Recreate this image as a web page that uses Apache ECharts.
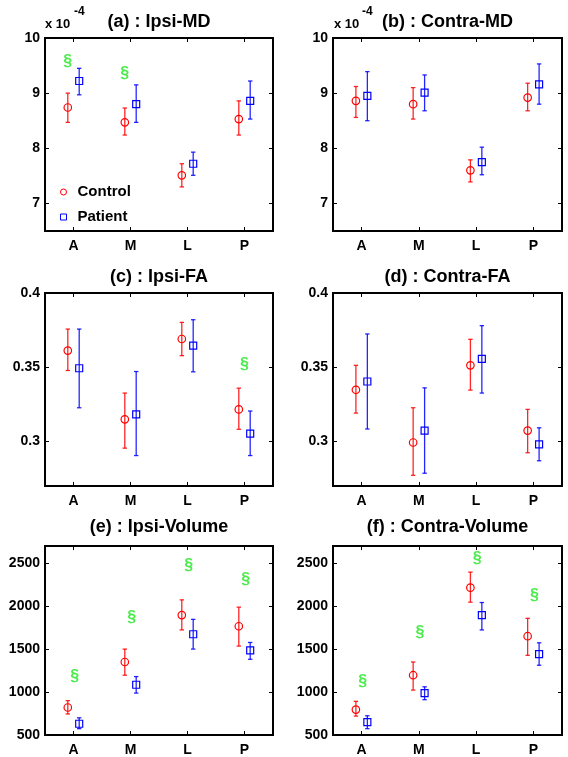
<!DOCTYPE html>
<html>
<head>
<meta charset="utf-8">
<script src="https://cdn.jsdelivr.net/npm/echarts@6/dist/echarts.min.js"></script>
<style>html,body{margin:0;padding:0;background:#fff;}#c{width:568px;height:757px;}</style>
</head>
<body>
<div id="c"></div>
<script>
const categories = ['A', 'M', 'L', 'P'];

// (a) Ipsi-MD (x 10^-4)
const ipsiMD_control   = [8.74, 8.47, 7.51, 8.53];
const ipsiMD_controlLo = [8.47, 8.24, 7.30, 8.24];
const ipsiMD_controlHi = [9.00, 8.73, 7.72, 8.86];
const ipsiMD_patient   = [9.22, 8.80, 7.72, 8.86];
const ipsiMD_patientLo = [8.97, 8.47, 7.51, 8.53];
const ipsiMD_patientHi = [9.45, 9.15, 7.93, 9.22];
const ipsiMD_sig = [[0, 9.58], [1, 9.36]];

// (b) Contra-MD (x 10^-4)
const contraMD_control   = [8.86, 8.80, 7.60, 8.92];
const contraMD_controlLo = [8.56, 8.53, 7.39, 8.68];
const contraMD_controlHi = [9.12, 9.10, 7.79, 9.18];
const contraMD_patient   = [8.95, 9.01, 7.75, 9.16];
const contraMD_patientLo = [8.50, 8.68, 7.52, 8.80];
const contraMD_patientHi = [9.39, 9.33, 8.02, 9.53];
const contraMD_sig = [];

// (c) Ipsi-FA
const ipsiFA_control   = [0.3612, 0.3149, 0.3690, 0.3216];
const ipsiFA_controlLo = [0.3478, 0.2955, 0.3578, 0.3082];
const ipsiFA_controlHi = [0.3757, 0.3326, 0.3802, 0.3359];
const ipsiFA_patient   = [0.3493, 0.3182, 0.3645, 0.3053];
const ipsiFA_patientLo = [0.3227, 0.2905, 0.3469, 0.2905];
const ipsiFA_patientHi = [0.3757, 0.3471, 0.3820, 0.3205];
const ipsiFA_sig = [[3, 0.352]];

// (d) Contra-FA
const contraFA_control   = [0.3348, 0.2993, 0.3513, 0.3073];
const contraFA_controlLo = [0.3191, 0.2772, 0.3346, 0.2924];
const contraFA_controlHi = [0.3513, 0.3227, 0.3688, 0.3216];
const contraFA_patient   = [0.3404, 0.3073, 0.3556, 0.2980];
const contraFA_patientLo = [0.3084, 0.2786, 0.3326, 0.2870];
const contraFA_patientHi = [0.3724, 0.3361, 0.3780, 0.3092];
const contraFA_sig = [];

// (e) Ipsi-Volume
const ipsiVol_control   = [820, 1350, 1896, 1766];
const ipsiVol_controlLo = [745, 1196, 1723, 1535];
const ipsiVol_controlHi = [900, 1500, 2073, 1988];
const ipsiVol_patient   = [631, 1085, 1673, 1485];
const ipsiVol_patientLo = [574, 988, 1500, 1381];
const ipsiVol_patientHi = [700, 1180, 1846, 1577];
const ipsiVol_sig = [[0, 1180], [1, 1862], [2, 2470], [3, 2308]];

// (f) Contra-Volume
const contraVol_control   = [796, 1196, 2215, 1650];
const contraVol_controlLo = [720, 1023, 2046, 1427];
const contraVol_controlHi = [892, 1350, 2396, 1858];
const contraVol_patient   = [651, 988, 1896, 1442];
const contraVol_patientLo = [574, 911, 1723, 1312];
const contraVol_patientHi = [724, 1061, 2042, 1573];
const contraVol_sig = [[0, 1123], [1, 1688], [2, 2558], [3, 2123]];

// tick labels
const mdTicks = [7, 8, 9, 10];
const faTicks = [0.3, 0.35, 0.4];
const volTicks = [500, 1000, 1500, 2000, 2500];

const FONT = 'Liberation Sans, Arial, Helvetica, sans-serif';
const RED = '#ff0000', BLUE = '#0000ff', GREEN = '#22e622';

const panels = [
  {title: '(a) : Ipsi-MD', grid: {left: 45, top: 38, width: 228, height: 193}, ymin: 6.5, ymax: 10, ticks: mdTicks,
   c: ipsiMD_control, cLo: ipsiMD_controlLo, cHi: ipsiMD_controlHi, p: ipsiMD_patient, pLo: ipsiMD_patientLo, pHi: ipsiMD_patientHi, sig: ipsiMD_sig, sigOff: -0.1, titleTop: 13},
  {title: '(b) : Contra-MD', grid: {left: 333, top: 38, width: 229, height: 193}, ymin: 6.5, ymax: 10, ticks: mdTicks,
   c: contraMD_control, cLo: contraMD_controlLo, cHi: contraMD_controlHi, p: contraMD_patient, pLo: contraMD_patientLo, pHi: contraMD_patientHi, sig: contraMD_sig, sigOff: 0, titleTop: 13},
  {title: '(c) : Ipsi-FA', grid: {left: 45, top: 293, width: 228, height: 193}, ymin: 0.27, ymax: 0.4, ticks: faTicks,
   c: ipsiFA_control, cLo: ipsiFA_controlLo, cHi: ipsiFA_controlHi, p: ipsiFA_patient, pLo: ipsiFA_patientLo, pHi: ipsiFA_patientHi, sig: ipsiFA_sig, sigOff: 0, titleTop: 268},
  {title: '(d) : Contra-FA', grid: {left: 333, top: 293, width: 229, height: 193}, ymin: 0.27, ymax: 0.4, ticks: faTicks,
   c: contraFA_control, cLo: contraFA_controlLo, cHi: contraFA_controlHi, p: contraFA_patient, pLo: contraFA_patientLo, pHi: contraFA_patientHi, sig: contraFA_sig, sigOff: 0, titleTop: 268},
  {title: '(e) : Ipsi-Volume', grid: {left: 45, top: 546, width: 228, height: 190}, ymin: 500, ymax: 2700, ticks: volTicks,
   c: ipsiVol_control, cLo: ipsiVol_controlLo, cHi: ipsiVol_controlHi, p: ipsiVol_patient, pLo: ipsiVol_patientLo, pHi: ipsiVol_patientHi, sig: ipsiVol_sig, sigOff: 0.02, titleTop: 518},
  {title: '(f) : Contra-Volume', grid: {left: 333, top: 546, width: 229, height: 190}, ymin: 500, ymax: 2700, ticks: volTicks,
   c: contraVol_control, cLo: contraVol_controlLo, cHi: contraVol_controlHi, p: contraVol_patient, pLo: contraVol_patientLo, pHi: contraVol_patientHi, sig: contraVol_sig, sigOff: 0.02, titleTop: 518}
];

const OFF = 0.1;
const catPos = [1, 2, 3, 4];

function errRender(color) {
  return function (params, api) {
    const x = api.value(0), lo = api.value(1), hi = api.value(2);
    const a = api.coord([x, lo]), b = api.coord([x, hi]);
    const w = 2.2;
    const st = {stroke: color, lineWidth: 1.3, opacity: 0.85};
    return {type: 'group', children: [
      {type: 'line', shape: {x1: a[0], y1: a[1], x2: b[0], y2: b[1]}, style: st},
      {type: 'line', shape: {x1: a[0] - w, y1: a[1], x2: a[0] + w, y2: a[1]}, style: st},
      {type: 'line', shape: {x1: b[0] - w, y1: b[1], x2: b[0] + w, y2: b[1]}, style: st}
    ]};
  };
}

const grids = [], xAxes = [], yAxes = [], series = [], titles = [];
panels.forEach((pn, i) => {
  grids.push(Object.assign({show: true, borderColor: '#000', borderWidth: 2, backgroundColor: '#fff'}, pn.grid));
  titles.push({text: pn.title, left: pn.grid.left + pn.grid.width / 2, top: pn.titleTop, textAlign: 'center', padding: 0,
    textStyle: {fontFamily: FONT, fontWeight: 'bold', fontSize: 18, color: '#000'}});
  const tickStyle = {show: true, inside: true, length: 4, lineStyle: {color: '#000', width: 1}, customValues: catPos};
  xAxes.push({gridIndex: i, type: 'value', min: 0.5, max: 4.5, position: 'bottom',
    axisLine: {show: false}, splitLine: {show: false},
    axisTick: tickStyle,
    axisLabel: {customValues: catPos, formatter: v => categories[Math.round(v) - 1], fontFamily: FONT, fontWeight: 'bold', fontSize: 14, color: '#000', margin: 8}});
  xAxes.push({gridIndex: i, type: 'value', min: 0.5, max: 4.5, position: 'top',
    axisLine: {show: false}, splitLine: {show: false},
    axisTick: tickStyle, axisLabel: {show: false}});
  const yTick = {show: true, inside: true, length: 4, lineStyle: {color: '#000', width: 1}, customValues: pn.ticks};
  yAxes.push({gridIndex: i, type: 'value', min: pn.ymin, max: pn.ymax, position: 'left',
    axisLine: {show: false}, splitLine: {show: false},
    axisTick: yTick,
    axisLabel: {customValues: pn.ticks, formatter: v => String(v), fontFamily: FONT, fontWeight: 'bold', fontSize: 14, color: '#000', margin: 5}});
  yAxes.push({gridIndex: i, type: 'value', min: pn.ymin, max: pn.ymax, position: 'right',
    axisLine: {show: false}, splitLine: {show: false},
    axisTick: yTick, axisLabel: {show: false}});

  const xi = i * 2, yi = i * 2;
  series.push({type: 'custom', xAxisIndex: xi, yAxisIndex: yi, renderItem: errRender(RED), encode: {x: 0, y: [1, 2]},
    data: categories.map((c, k) => [k + 1 - OFF, pn.cLo[k], pn.cHi[k]]), silent: true, z: 2});
  series.push({type: 'custom', xAxisIndex: xi, yAxisIndex: yi, renderItem: errRender(BLUE), encode: {x: 0, y: [1, 2]},
    data: categories.map((c, k) => [k + 1 + OFF, pn.pLo[k], pn.pHi[k]]), silent: true, z: 2});
  series.push({type: 'scatter', name: 'Control', xAxisIndex: xi, yAxisIndex: yi, symbol: 'circle', symbolSize: 7.5,
    itemStyle: {color: 'transparent', borderColor: RED, borderWidth: 1.2, opacity: 1},
    data: categories.map((c, k) => [k + 1 - OFF, pn.c[k]]), z: 3});
  series.push({type: 'scatter', name: 'Patient', xAxisIndex: xi, yAxisIndex: yi, symbol: 'rect', symbolSize: 7,
    itemStyle: {color: 'transparent', borderColor: BLUE, borderWidth: 1.2, opacity: 1},
    data: categories.map((c, k) => [k + 1 + OFF, pn.p[k]]), z: 3});
  if (pn.sig.length) {
    series.push({type: 'scatter', xAxisIndex: xi, yAxisIndex: yi, symbol: 'circle', symbolSize: 1,
      itemStyle: {color: 'transparent'},
      label: {show: true, position: 'inside', formatter: '§', color: GREEN, fontFamily: FONT, fontWeight: 'bold', fontSize: 16},
      data: pn.sig.map(s => [s[0] + 1 + pn.sigOff, s[1]]), z: 4});
  }
});

const option = {
  animation: false,
  backgroundColor: '#fff',
  title: titles,
  grid: grids,
  xAxis: xAxes,
  yAxis: yAxes,
  legend: {
    orient: 'vertical', left: 60, top: 184, itemWidth: 6, itemHeight: 6, itemGap: 9, padding: 0,
    textStyle: {fontFamily: FONT, fontWeight: 'bold', fontSize: 15, color: '#000', lineHeight: 16, padding: [0, 0, 0, 6]},
    selectedMode: false,
    data: [
      {name: 'Control', icon: 'circle', itemStyle: {color: 'transparent', borderColor: RED, borderWidth: 1}},
      {name: 'Patient', icon: 'rect', itemStyle: {color: 'transparent', borderColor: BLUE, borderWidth: 1}}
    ]
  },
  graphic: [
    {type: 'text', left: 45, top: 18, style: {text: 'x 10', font: 'bold 13px ' + FONT, fill: '#000'}},
    {type: 'text', left: 74, top: 6, style: {text: '-4', font: 'bold 12px ' + FONT, fill: '#000'}},
    {type: 'text', left: 334, top: 18, style: {text: 'x 10', font: 'bold 13px ' + FONT, fill: '#000'}},
    {type: 'text', left: 362, top: 6, style: {text: '-4', font: 'bold 12px ' + FONT, fill: '#000'}}
  ],
  series: series
};

const chart = echarts.init(document.getElementById('c'), null, {renderer: 'canvas'});
chart.setOption(option);
</script>
</body>
</html>
